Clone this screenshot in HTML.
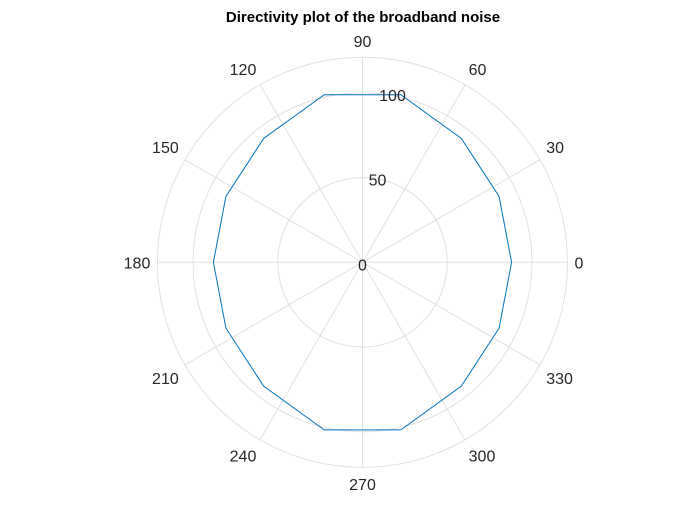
<!DOCTYPE html>
<html><head><meta charset="utf-8"><style>
body{margin:0;background:#fff;}
svg{display:block;font-family:"Liberation Sans",Arial,sans-serif;}
</style></head><body>
<svg id="c" width="700" height="525">
<text x="363" y="22" text-anchor="middle" font-size="15" font-weight="bold" fill="#000">Directivity plot of the broadband noise</text>
<g id="grid"></g><g id="series"></g><g id="labels"></g>
</svg>
<script>
const angleTicks=[0,30,60,90,120,150,180,210,240,270,300,330];
const radialTicks=[0,50,100];
const rMax=121;
const thetaDeg=[0,25.71,51.43,77.14,102.86,128.57,154.29,180,205.71,231.43,257.14,282.86,308.57,334.29];
const rhoValues=[88,89.5,93.5,101.5,101.5,93.5,89.5,88,89.5,93.5,101.5,101.5,93.5,89.5];
const cx=362.5,cy=262.3,R=205;
const NS='http://www.w3.org/2000/svg';
function rs(v){return v/rMax*R;}
function pt(a,v){const t=a*Math.PI/180;return [cx+rs(v)*Math.cos(t),cy-rs(v)*Math.sin(t)];}
function mk(tag,attrs,parent){const e=document.createElementNS(NS,tag);for(const k in attrs)e.setAttribute(k,attrs[k]);parent.appendChild(e);return e;}
const g=document.getElementById('grid'),s=document.getElementById('series'),l=document.getElementById('labels');
for(const v of radialTicks.slice(1).concat([rMax])){
 const c=mk('circle',{cx:cx,cy:cy,r:rs(v),fill:'none',stroke:'#e0e0e0','stroke-width':1},g);
 
 
}
for(const a of angleTicks){
 const p=pt(a,rMax);
 const ln=mk('line',{x1:cx,y1:cy,x2:p[0],y2:p[1],stroke:'#e0e0e0','stroke-width':1},g);
 
 
 const t=a*Math.PI/180,c=Math.cos(t),sn=Math.sin(t);
 const w=String(a).length*9;
 const sx=Math.abs(c)>0.1?Math.sign(c):0, sy=Math.abs(sn)>0.1?Math.sign(sn):0;
 const x=p[0]+c*7+sx*w/2;
 const y=p[1]-sn*7-sy*9.5;
 const tx=mk('text',{x:x,y:y+6,'text-anchor':'middle','font-size':16,fill:'#262626'},l);
 tx.textContent=a;
 
 
}
for(const v of radialTicks){
 const len=String(v).length;
 const tx=mk('text',{x:cx+(len-1)*15,y:cy-rs(v)+8,'text-anchor':'middle','font-size':16,fill:'#262626'},l);
 tx.textContent=v;
 
 
}
const pts=thetaDeg.map((a,i)=>pt(a,rhoValues[i]));
pts.push(pts[0]);
const pl=mk('polyline',{points:pts.map(p=>p[0].toFixed(1)+','+p[1].toFixed(1)).join(' '),fill:'none',stroke:'#0072bd','stroke-width':1},s);


</script>
</body></html>
